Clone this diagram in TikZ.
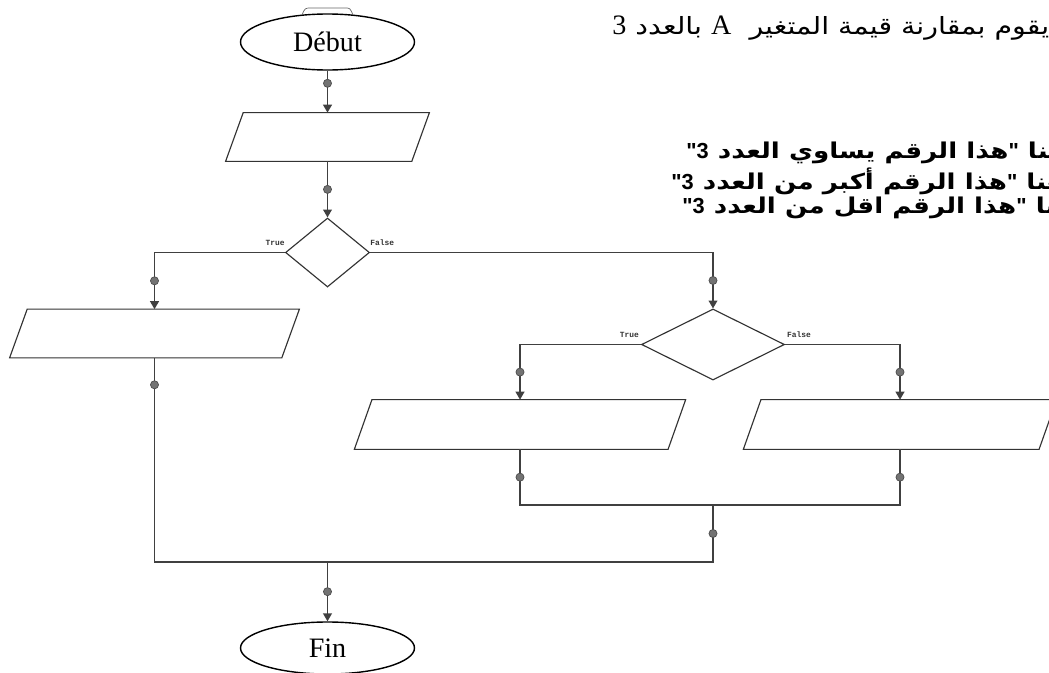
\documentclass[tikz,border=0pt]{standalone}
\usepackage{fontspec}
\setmainfont{Liberation Serif}
\newfontfamily\arabicfont[Script=Arabic, FakeStretch=1.2]{DejaVu Sans}
\newfontfamily\quotefont{Liberation Sans}
\newfontfamily\ttlabel{Liberation Mono}
\usetikzlibrary{shapes.geometric,arrows.meta}
\TeXXeTstate=1
\newlength{\pxunit}
\setlength{\pxunit}{0.02cm}

\begin{document}
\begin{tikzpicture}[x=0.02cm, y=-0.02cm,
    wire/.style={draw=black!75, line width=0.8pt},
    flow/.style={wire, -{Triangle[length=4.5pt,width=5pt]}},
    dot/.style={circle, fill=black!55, draw=black!70, line width=0.4pt, inner sep=0pt, minimum size=4.6pt},
    term/.style={ellipse, draw=black, line width=0.8pt, inner sep=0pt, minimum width=174*\pxunit, minimum height=56*\pxunit, font=\fontsize{16}{18}\selectfont},
    io/.style={rectangle, inner sep=0pt, minimum height=48*\pxunit},
    box/.style={draw=black!80, line width=0.65pt},
    test/.style={diamond, draw=black!80, line width=0.65pt, inner sep=0pt},
    lbl/.style={font=\ttlabel\bfseries\fontsize{4.5}{5}\selectfont, text=black!80, inner sep=0pt},
    note/.style={font=\arabicfont\fontsize{13.5}{16}\selectfont, inner sep=0pt, anchor=west},
    bnote/.style={note, font=\arabicfont\bfseries\fontsize{12.4}{14}\selectfont}]

\useasboundingbox (0,0) rectangle (1049,673);
\fill[white] (0,0) rectangle (1049,673);
\clip (0,0) rectangle (1049,673);

% texte a droite
\node[note] (consigne) at (612,28) {\beginR يقوم بمقارنة قيمة المتغير\ \ {\rmfamily\fontsize{16}{16}\selectfont A} بالعدد {\rmfamily\fontsize{16}{16}\selectfont 3}\endR};
\node[bnote] (egal) at (686,153) {\beginR هنا {\quotefont"}هذا الرقم يساوي العدد {\quotefont 3}\kern0pt{\quotefont"}\endR};
\node[bnote] (plus) at (671,181) {\beginR هنا {\quotefont"}هذا الرقم أكبر من العدد {\quotefont 3}\kern0pt{\quotefont"}\endR};
\node[bnote] (moins) at (682,208) {\beginR هنا {\quotefont"}هذا الرقم اقل من العدد {\quotefont 3}\kern0pt{\quotefont"}\endR};

% organigramme
\node[term] (debut) at (327.5,42) {Début};
\draw[black!60, line width=0.4pt] (302,15) .. controls (305,8) .. (311,8) -- (345,8) .. controls (350,8) .. (353,15);
\node[io, minimum width=185.5*\pxunit] (lire) at (327.5,137) {};
\node[test, minimum width=84*\pxunit, minimum height=69*\pxunit] (test1) at (327.5,252.5) {};
\node[io, minimum width=271.5*\pxunit] (sortie1) at (154.5,333.5) {};
\node[test, minimum width=143*\pxunit, minimum height=71*\pxunit] (test2) at (713,344.5) {};
\node[io, minimum width=313*\pxunit, minimum height=49*\pxunit] (sortie2) at (520,424.5) {};
\node[io, minimum width=295*\pxunit, minimum height=49*\pxunit] (sortie3) at (900,424.5) {};
\node[term, minimum height=52*\pxunit] (fin) at (327.5,648) {Fin};

% parallelogrammes
\foreach \n in {lire,sortie1,sortie2,sortie3}
  \draw[box] ([xshift=8.8*\pxunit]\n.north west) -- ([xshift=8.8*\pxunit]\n.north east)
    -- ([xshift=-8.8*\pxunit]\n.south east) -- ([xshift=-8.8*\pxunit]\n.south west) -- cycle;

\node[lbl, anchor=south east] (vrai1) at ([yshift=3.5pt]test1.west) {True};
\node[lbl, anchor=south west] (faux1) at ([yshift=3.5pt]test1.east) {False};
\node[lbl, anchor=south east] (vrai2) at ([xshift=-1pt,yshift=3.5pt]test2.west) {True};
\node[lbl, anchor=south west] (faux2) at ([xshift=1pt,yshift=3.5pt]test2.east) {False};

\coordinate (j1) at (713,505);
\coordinate (j2) at (327.5,562);

\draw[flow] (debut) -- node[dot,pos=0.3] (d1) {} (lire);
\draw[flow] (lire) -- node[dot] (d2) {} (test1);
\draw[flow] (test1.west) -| node[dot,pos=0.75] (d3) {} (sortie1.north);
\draw[flow] (test1.east) -| node[dot,pos=0.75] (d4) {} (test2.north);
\draw[flow] (test2.west) -| node[dot,pos=0.75] (d5) {} (sortie2.north);
\draw[flow] (test2.east) -| node[dot,pos=0.75] (d6) {} (sortie3.north);
\draw[wire] (sortie2.south) |- node[dot,pos=0.25] (d7) {} (j1);
\draw[wire] (sortie3.south) |- node[dot,pos=0.25] (d8) {} (j1);
\draw[wire] (sortie1.south) |- node[dot,pos=0.066] (d9) {} (j1 |- j2) -- node[dot] (d10) {} (j1);
\draw[flow] (j2) -- node[dot] (d11) {} (fin);
\end{tikzpicture}
\end{document}
